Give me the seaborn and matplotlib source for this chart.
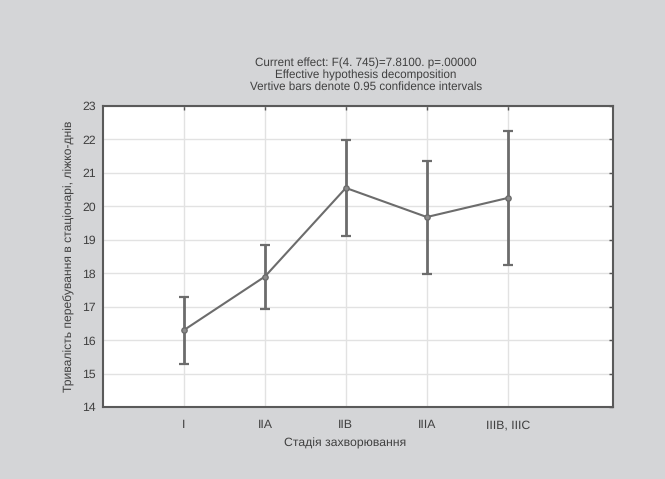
import pandas as pd
import matplotlib
matplotlib.use("Agg")
import matplotlib.pyplot as plt
import seaborn as sns

# values
stages = ["I", "IIA", "IIB", "IIIA", "IIIB, IIIC"]
means = [16.3, 17.9, 20.55, 19.68, 20.25]
ci_low = [15.28, 16.93, 19.12, 17.98, 18.25]
ci_high = [17.3, 18.85, 21.99, 21.37, 22.24]

title_lines = [
    "Current effect: F(4. 745)=7.8100. p=.00000",
    "Effective hypothesis decomposition",
    "Vertive bars denote 0.95 confidence intervals",
]

BG = "#d4d5d7"
INK = "#6c6c6c"
TXT = "#404040"

sns.set_theme(style="white")
plt.rcParams["font.family"] = ["Liberation Sans", "DejaVu Sans"]
plt.rcParams["text.hinting"] = "no_hinting"

df = pd.DataFrame({"stage": stages, "pos": range(len(stages)), "mean": means,
                   "lo": ci_low, "hi": ci_high})

fig = plt.figure(figsize=(6.65, 4.79), dpi=100, facecolor=BG)
ax = fig.add_axes([103 / 665, 1 - 407 / 479, 510 / 665, 301 / 479])
ax.set_facecolor("white")

ax.errorbar(df["pos"], df["mean"],
            yerr=[df["mean"] - df["lo"], df["hi"] - df["mean"]],
            fmt="none", ecolor=INK, elinewidth=2.0, capsize=3.8, capthick=1.6, zorder=3)
sns.lineplot(data=df, x="pos", y="mean", ax=ax, color=INK, linewidth=1.5,
             marker="o", markersize=3.8, markerfacecolor="#8c8c8c",
             markeredgecolor=INK, markeredgewidth=1.0, zorder=4)

ax.set_xlim(-1, 5.3)
ax.set_ylim(14, 23)
ax.set_xticks(df["pos"])
ax.set_xticklabels(stages)
ax.set_yticks(range(14, 24))
ax.grid(True, color="#e2e2e2", linewidth=1.0)
ax.set_axisbelow(True)

ax.tick_params(axis="both", direction="in", length=3, width=1, color="#555555",
               labelsize=8.8, labelcolor=TXT, top=True, right=True)
ax.tick_params(axis="x", pad=9)
ax.tick_params(axis="y", pad=5)
for s in ax.spines.values():
    s.set_color("#5a5a5a")
    s.set_linewidth(1.5)

ax.set_xlabel("")
ax.set_ylabel("Тривалість перебування в стаціонарі, ліжко-днів", fontsize=8.7,
              color=TXT, labelpad=5)
fig.text(345 / 665, 1 - 443 / 479, "Стадія захворювання", ha="center", va="center",
         fontsize=8.8, color=TXT)

for i, line in enumerate(title_lines):
    fig.text(366 / 665, 1 - (63.5 + 11.6 * i) / 479, line, ha="center", va="center",
             fontsize=8.4, color=TXT)

fig.savefig("out.png", dpi=100, facecolor=BG)
